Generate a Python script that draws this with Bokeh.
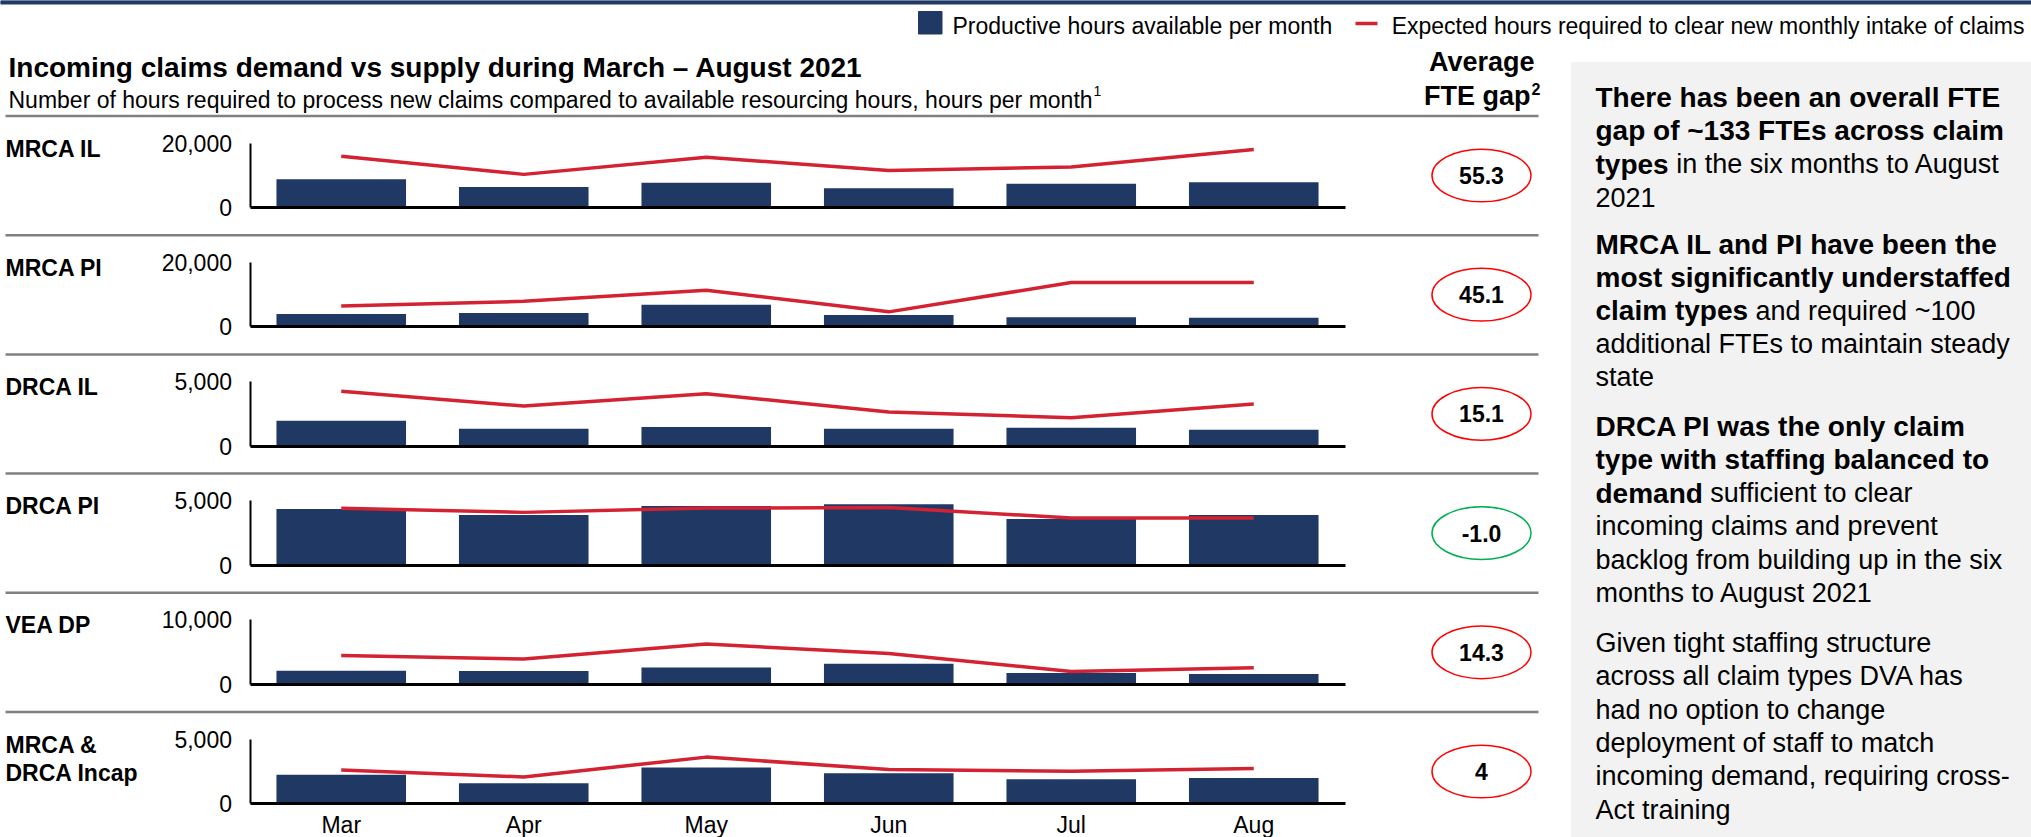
from bokeh.plotting import figure
from bokeh.models import Range1d, LinearAxis, FixedTicker, NumeralTickFormatter
from bokeh.core.properties import value
from bokeh.embed import file_html
from bokeh.resources import INLINE

W, H = 2031, 837
FONT = "Liberation Sans"
NAVY = "#203864"
RED = "#D32232"
GREY = "#808080"

# ---- data -------------------------------------------------------------
months = ["Mar", "Apr", "May", "Jun", "Jul", "Aug"]
claim_types = ["MRCA IL", "MRCA PI", "DRCA IL", "DRCA PI", "VEA DP", "MRCA &\nDRCA Incap"]

# productive hours available per month
available_mrca_il = [8800, 6400, 7700, 6000, 7400, 7900]
available_mrca_pi = [4000, 4300, 6850, 3700, 2950, 2850]
available_drca_il = [1960, 1350, 1470, 1350, 1420, 1270]
available_drca_pi = [4360, 3890, 4590, 4720, 3580, 3890]
available_vea_dp = [2120, 2070, 2630, 3200, 1760, 1610]
available_incap = [2230, 1580, 2800, 2360, 1890, 1990]

# expected hours required to clear new monthly intake of claims
required_mrca_il = [15900, 10300, 15600, 11500, 12600, 18000]
required_mrca_pi = [6450, 7900, 11350, 4650, 13700, 13700]
required_drca_il = [4230, 3090, 4050, 2630, 2200, 3250]
required_drca_pi = [4400, 4090, 4420, 4460, 3660, 3660]
required_vea_dp = [4480, 3930, 6250, 4790, 2010, 2580]
required_incap = [2610, 2070, 3600, 2650, 2510, 2720]

axis_max = [20000, 20000, 5000, 5000, 10000, 5000]
fte_gap = ["55.3", "45.1", "15.1", "-1.0", "14.3", "4"]

available = [available_mrca_il, available_mrca_pi, available_drca_il,
             available_drca_pi, available_vea_dp, available_incap]
required = [required_mrca_il, required_mrca_pi, required_drca_il,
            required_drca_pi, required_vea_dp, required_incap]

title = "Incoming claims demand vs supply during March \u2013 August 2021"
subtitle = ("Number of hours required to process new claims compared to "
            "available resourcing hours, hours per month")
legend_bars = "Productive hours available per month"
legend_line = "Expected hours required to clear new monthly intake of claims"

# commentary: (bold run, regular run) per line, grouped in paragraphs
commentary = [
    [("There has been an overall FTE", ""),
     ("gap of ~133 FTEs across claim", ""),
     ("types", "in the six months to August"),
     ("", "2021")],
    [("MRCA IL and PI have been the", ""),
     ("most significantly understaffed", ""),
     ("claim types", "and required ~100"),
     ("", "additional FTEs to maintain steady"),
     ("", "state")],
    [("DRCA PI was the only claim", ""),
     ("type with staffing balanced to", ""),
     ("demand", "sufficient to clear"),
     ("", "incoming claims and prevent"),
     ("", "backlog from building up in the six"),
     ("", "months to August 2021")],
    [("", "Given tight staffing structure"),
     ("", "across all claim types DVA has"),
     ("", "had no option to change"),
     ("", "deployment of staff to match"),
     ("", "incoming demand, requiring cross-"),
     ("", "Act training")],
]

# ---- page geometry (screen pixels) -----------------------------------------
AXIS_X = 249.5          # left edge of the month bands
BAND = 182.5            # width of one month band
SEP0, PITCH = 115.5, 119.2
TOP_OFF, ZERO_OFF = 27.0, 91.7
BADGE_X = 1481


def label(x, y, txt, size, bold=False, align="left"):
    p.text(x=[x], y=[y], text=[txt], text_font=value(FONT), text_font_size=f"{size}px",
           text_font_style="bold" if bold else "normal", text_align=align,
           text_baseline="middle", text_color="black")


p = figure(width=W, height=H, x_range=Range1d(0, W), y_range=Range1d(H, 0),
           min_border=0, toolbar_location=None, output_backend="svg",
           x_axis_type=None, y_axis_type=None, outline_line_color=None,
           background_fill_color="white", border_fill_color="white")

p.extra_x_ranges = {"m": Range1d(start=-AXIS_X / BAND, end=(W - AXIS_X) / BAND)}
yr = {}
for i, ymax in enumerate(axis_max):
    sep = SEP0 + PITCH * i
    top_px, zero_px = sep + TOP_OFF, sep + ZERO_OFF
    k = ymax / (zero_px - top_px)
    yr[f"p{i}"] = Range1d(start=-(H - zero_px) * k, end=zero_px * k)
p.extra_y_ranges = yr

# top banner and commentary panel
p.quad(left=0, right=W, top=0, bottom=3.5, color=NAVY)
p.quad(left=1571, right=W, top=62, bottom=H, color="#F2F2F2")

# legend
p.quad(left=918, right=941.5, top=11, bottom=33.5, color=NAVY)
label(952, 25.5, legend_bars, 23)
p.segment(x0=1355, x1=1377, y0=23, y1=23, line_color=RED, line_width=3.5)
label(2024, 25.5, legend_line, 23, align="right")

# headings
label(8, 67, title, 28, bold=True)
label(8, 99, subtitle, 23)
label(1093, 90, "1", 14)
label(1534, 61.7, "Average", 27, bold=True, align="right")
label(1530, 95.5, "FTE gap", 27, bold=True, align="right")
label(1531, 88.5, "2", 16, bold=True)

# separators between the claim-type rows
seps = [SEP0 + PITCH * i for i in range(len(claim_types))]
p.segment(x0=[5] * len(seps), x1=[1538] * len(seps), y0=seps, y1=seps,
          line_color=GREY, line_width=2.5)

xs = [j + 0.5 for j in range(len(months))]
last = len(claim_types) - 1
for i, name in enumerate(claim_types):
    rng = f"p{i}"
    sep = SEP0 + PITCH * i
    p.vbar(x=xs, top=available[i], width=0.71, x_range_name="m", y_range_name=rng,
           fill_color=NAVY, line_color=None)
    p.line(x=xs, y=required[i], x_range_name="m", y_range_name=rng,
           line_color=RED, line_width=3.5)

    yaxis = LinearAxis(y_range_name=rng, fixed_location=AXIS_X, bounds=(0, axis_max[i]),
                       ticker=FixedTicker(ticks=[0, axis_max[i]]),
                       formatter=NumeralTickFormatter(format="0,0"),
                       axis_line_color="black", axis_line_width=2,
                       major_tick_line_color=None, minor_tick_line_color=None,
                       major_tick_out=0, major_tick_in=0,
                       major_label_standoff=18, major_label_text_font=FONT,
                       major_label_text_font_size="23px", major_label_text_color="black")
    p.add_layout(yaxis, "left")

    xaxis = LinearAxis(x_range_name="m", y_range_name=rng, fixed_location=0,
                       bounds=(0, len(months)),
                       ticker=FixedTicker(ticks=xs if i == last else []),
                       major_label_overrides={x: m for x, m in zip(xs, months)},
                       axis_line_color="black", axis_line_width=3,
                       major_tick_line_color=None, minor_tick_line_color=None,
                       major_tick_out=0, major_tick_in=0,
                       major_label_standoff=8, major_label_text_font=FONT,
                       major_label_text_font_size="23px", major_label_text_color="black")
    p.add_layout(xaxis, "below")

    # claim type label
    for li, part in enumerate(name.split("\n")):
        label(5, sep + 32.5 + 28 * li, part, 23, bold=True)

    # average FTE gap badge
    ring = "#00B050" if fte_gap[i].startswith("-") else "#FF0000"
    p.ellipse(x=[BADGE_X], y=[sep + 59.5], width=99, height=52.7,
              width_units="screen", height_units="screen",
              fill_color="white", line_color=ring, line_width=1.5)
    label(BADGE_X, sep + 59.5, fte_gap[i], 23, bold=True, align="center")

# commentary text (bold lead-in followed by regular text on the same line)
BOLD_W = {"t": 333, "y": 556, "p": 611, "e": 556, "s": 556, "c": 556, "l": 278,
          "a": 556, "i": 278, "m": 889, " ": 278, "d": 611, "n": 611}
BOLD_SIZE, TXT_SIZE = 28, 27
TX = 1595
LINE = 33.3
para_start = [97, 243.5, 426, 642.5]
for para, y0 in zip(commentary, para_start):
    for li, (bold, regular) in enumerate(para):
        y = y0 + LINE * li
        x = TX
        if bold:
            label(x, y, bold, BOLD_SIZE, bold=True)
            x += sum(BOLD_W.get(c, 556) for c in bold) / 1000 * BOLD_SIZE
            x += 0.278 * TXT_SIZE
        if regular:
            label(x, y, regular, TXT_SIZE)

open("out.html", "w").write(file_html(p, INLINE))
